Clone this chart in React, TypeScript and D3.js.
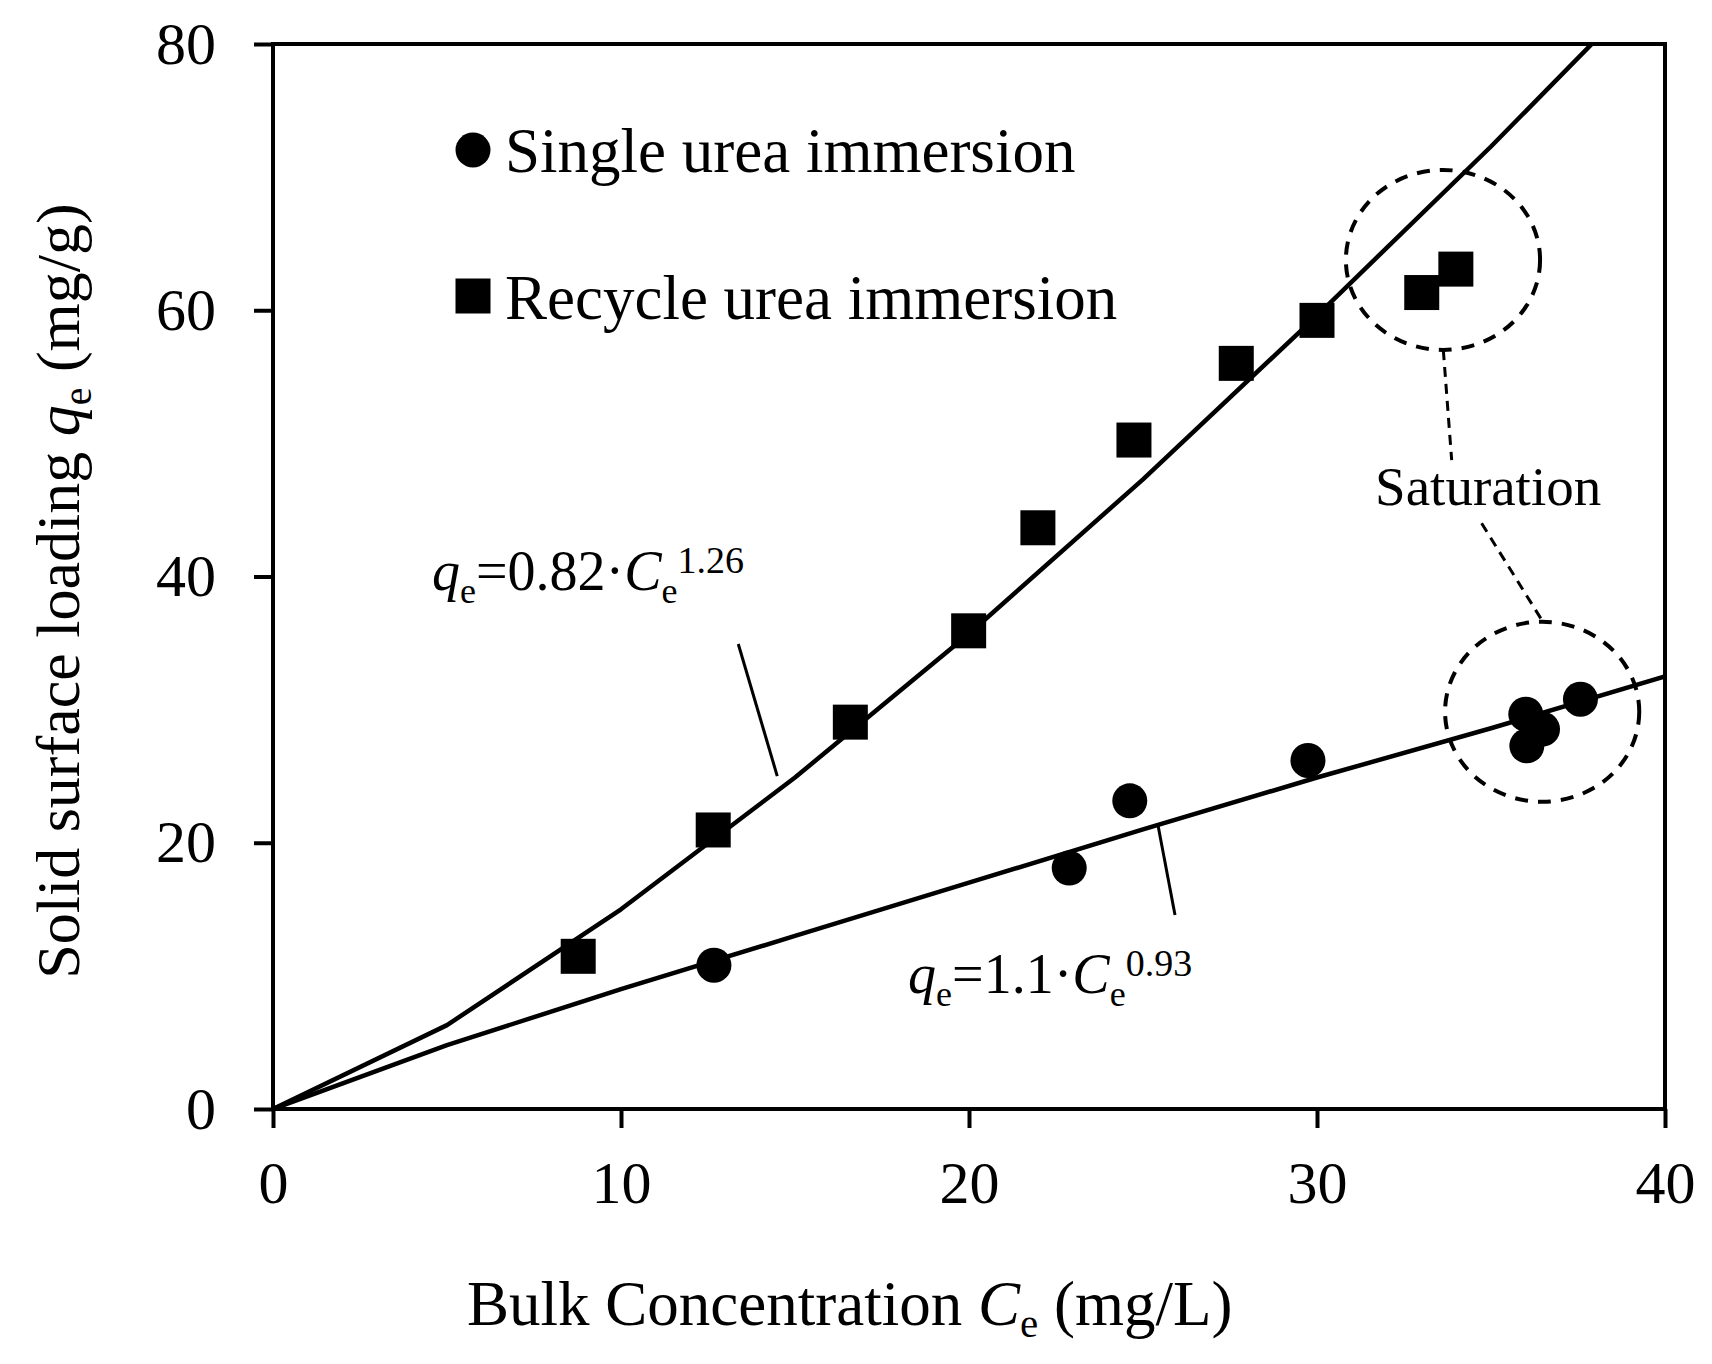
import { useEffect, useRef } from 'react'
import * as d3 from 'd3'

// measured points, C_e (mg/L) vs q_e (mg/g)
const singleC = [12.67, 22.88, 24.62, 29.74, 36.0, 36.03, 36.48, 37.57]
const singleQ = [10.8, 18.1, 23.15, 26.18, 29.66, 27.28, 28.53, 30.78]
const recycleC = [8.77, 12.65, 16.59, 19.99, 21.98, 24.74, 27.68, 30.0, 33.01, 33.99]
const recycleQ = [11.47, 20.96, 29.06, 35.92, 43.66, 50.25, 56.01, 59.24, 61.33, 63.09]

// fitted curves as drawn (vertices every 5 mg/L)
const fitC = [0, 5, 10, 15, 20, 25, 30, 35, 40]
const singleFit = [0, 4.8, 9.0, 13.0, 17.0, 21.0, 24.9, 28.6, 32.5]
const recycleFit = [0, 6.3, 15.0, 24.9, 35.7, 47.3, 59.6, 72.3, 85.6]

const xTicks = [0, 10, 20, 30, 40]
const yTicks = [0, 20, 40, 60, 80]
const legendLabels = ['Single urea immersion', 'Recycle urea immersion']

// annotation geometry in data units
const ringCentres = [
  { c: 33.62, q: 63.78 },
  { c: 36.47, q: 29.84 },
]
const ringHalf = { c: 2.79, q: 6.76 }
const leaderLines = [
  [33.63, 57.01, 33.87, 48.75],
  [34.73, 44.0, 36.46, 36.73],
]
const pointerLines = [
  [13.37, 34.93, 14.49, 25.01],
  [25.42, 21.46, 25.92, 14.57],
]

const FONT = '"Liberation Serif", "Times New Roman", serif'

const App: React.FC = () => {
  const svgRef = useRef<SVGSVGElement>(null)

  useEffect(() => {
    if (!svgRef.current) return

    const width = 1712
    const height = 1364
    const margin = { top: 44, right: 47, bottom: 255, left: 273 }

    const svg = d3.select(svgRef.current)
      .attr('width', width)
      .attr('height', height)
    svg.selectAll('*').remove()

    const x = d3.scaleLinear().domain([0, 40]).range([margin.left, width - margin.right])
    const y = d3.scaleLinear().domain([0, 80]).range([height - margin.bottom, margin.top])

    svg.append('rect').attr('width', width).attr('height', height).attr('fill', '#fff')

    svg.append('clipPath').attr('id', 'plot-clip')
      .append('rect')
      .attr('x', x(0)).attr('y', y(80))
      .attr('width', x(40) - x(0)).attr('height', y(0) - y(80))

    // axes
    const styleAxis = (a: d3.Selection<SVGGElement, unknown, null, undefined>) => {
      a.select('.domain').remove()
      a.attr('font-family', FONT).attr('font-size', 60)
      a.selectAll('line').attr('stroke', '#000').attr('stroke-width', 4)
      a.selectAll('text').attr('fill', '#000')
    }

    svg.append('g')
      .attr('transform', `translate(0,${y(0)})`)
      .call(d3.axisBottom(x).tickValues(xTicks).tickSize(19).tickSizeOuter(0).tickPadding(32))
      .call(styleAxis)

    svg.append('g')
      .attr('transform', `translate(${x(0)},0)`)
      .call(d3.axisLeft(y).tickValues(yTicks).tickSize(19).tickSizeOuter(0).tickPadding(38))
      .call(styleAxis)

    svg.append('rect')
      .attr('x', x(0)).attr('y', y(80))
      .attr('width', x(40) - x(0)).attr('height', y(0) - y(80))
      .attr('fill', 'none')
      .attr('stroke', '#000')
      .attr('stroke-width', 4)

    // fitted curves
    const line = d3.line<number>()
      .x((_, i) => x(fitC[i]))
      .y(d => y(d))

    ;[recycleFit, singleFit].forEach(series => {
      svg.append('path')
        .attr('d', line(series))
        .attr('clip-path', 'url(#plot-clip)')
        .attr('fill', 'none')
        .attr('stroke', '#000')
        .attr('stroke-width', 4.5)
        .attr('stroke-linejoin', 'round')
    })

    // markers
    const size = 35
    svg.append('g').selectAll('rect')
      .data(recycleC)
      .enter().append('rect')
      .attr('x', d => x(d) - size / 2)
      .attr('y', (_, i) => y(recycleQ[i]) - size / 2)
      .attr('width', size)
      .attr('height', size)
      .attr('fill', '#000')

    svg.append('g').selectAll('circle')
      .data(singleC)
      .enter().append('circle')
      .attr('cx', d => x(d))
      .attr('cy', (_, i) => y(singleQ[i]))
      .attr('r', size / 2)
      .attr('fill', '#000')

    // saturation rings + leaders
    ringCentres.forEach(r => {
      svg.append('ellipse')
        .attr('cx', x(r.c)).attr('cy', y(r.q))
        .attr('rx', x(ringHalf.c) - x(0))
        .attr('ry', y(0) - y(ringHalf.q))
        .attr('fill', 'none')
        .attr('stroke', '#000')
        .attr('stroke-width', 4)
        .attr('stroke-dasharray', '13,10')
    })

    leaderLines.forEach(l => {
      svg.append('line')
        .attr('x1', x(l[0])).attr('y1', y(l[1]))
        .attr('x2', x(l[2])).attr('y2', y(l[3]))
        .attr('stroke', '#000')
        .attr('stroke-width', 3)
        .attr('stroke-dasharray', '10,7')
    })

    pointerLines.forEach(l => {
      svg.append('line')
        .attr('x1', x(l[0])).attr('y1', y(l[1]))
        .attr('x2', x(l[2])).attr('y2', y(l[3]))
        .attr('stroke', '#000')
        .attr('stroke-width', 3)
    })

    svg.append('text')
      .attr('x', x(31.67)).attr('y', y(45.37))
      .attr('font-family', FONT).attr('font-size', 55)
      .text('Saturation')

    // equations
    const equation = (cx: number, qy: number, coef: string, power: string) => {
      const t = svg.append('text')
        .attr('x', x(cx)).attr('y', y(qy))
        .attr('font-family', FONT).attr('font-size', 56)
      t.append('tspan').attr('font-style', 'italic').text('q')
      t.append('tspan').attr('font-size', 36).attr('dy', 13).text('e')
      t.append('tspan').attr('dy', -13).text(`=${coef}\u00b7`)
      t.append('tspan').attr('font-style', 'italic').text('C')
      t.append('tspan').attr('font-size', 36).attr('dy', 13).text('e')
      t.append('tspan').attr('font-size', 38).attr('dy', -30).text(power)
    }
    equation(4.57, 38.99, '0.82', '1.26')
    equation(18.25, 8.71, '1.1', '0.93')

    // legend
    svg.append('circle').attr('cx', 473).attr('cy', 150).attr('r', size / 2).attr('fill', '#000')
    svg.append('rect').attr('x', 473 - size / 2).attr('y', 296 - size / 2)
      .attr('width', size).attr('height', size).attr('fill', '#000')
    legendLabels.forEach((label, i) => {
      svg.append('text')
        .attr('x', 505).attr('y', i === 0 ? 172 : 319)
        .attr('font-family', FONT).attr('font-size', 63)
        .text(label)
    })

    // axis titles
    const xt = svg.append('text')
      .attr('x', 467).attr('y', 1325)
      .attr('font-family', FONT).attr('font-size', 63)
    xt.append('tspan').text('Bulk Concentration ')
    xt.append('tspan').attr('font-style', 'italic').text('C')
    xt.append('tspan').attr('font-size', 41).attr('dy', 12).text('e')
    xt.append('tspan').attr('dy', -12).text(' (mg/L)')

    const yt = svg.append('text')
      .attr('transform', `translate(79,${591}) rotate(-90)`)
      .attr('text-anchor', 'middle')
      .attr('font-family', FONT).attr('font-size', 62)
    yt.append('tspan').text('Solid surface loading ')
    yt.append('tspan').attr('font-style', 'italic').text('q')
    yt.append('tspan').attr('font-size', 40).attr('dy', 12).text('e')
    yt.append('tspan').attr('dy', -12).text(' (mg/g)')
  }, [])

  return (
    <svg
      ref={svgRef}
      style={{ position: 'absolute', left: 0, top: 0, display: 'block' }}
    ></svg>
  )
}

export default App
